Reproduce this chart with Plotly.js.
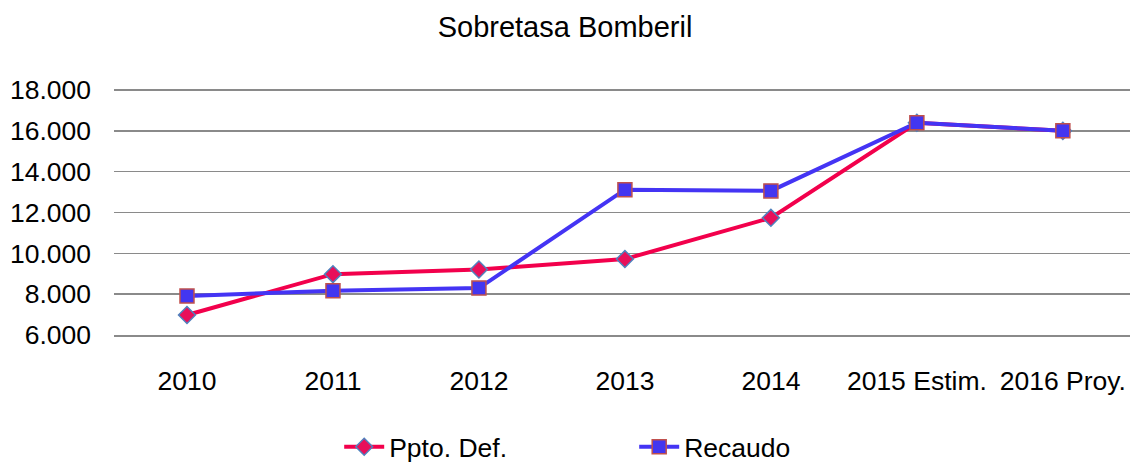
<!DOCTYPE html>
<html>
<head>
<meta charset="utf-8">
<script src="https://cdn.plot.ly/plotly-3.0.1.min.js"></script>
<style>html,body{margin:0;padding:0;background:#fff}#chart{width:1130px;height:465px}</style>
</head>
<body>
<div id="chart"></div>
<script>
const categories = ["2010", "2011", "2012", "2013", "2014", "2015 Estim.", "2016 Proy."];
const pptoDef = [6980, 8980, 9210, 9720, 11740, 16400, 16000];
const recaudo = [7910, 8170, 8300, 13120, 13060, 16400, 16000];
const yTicks = [6000, 8000, 10000, 12000, 14000, 16000, 18000];

const traces = [
  {
    x: categories, y: pptoDef, name: "Ppto. Def.", type: "scatter", mode: "lines+markers",
    line: {color: "#F2004C", width: 4},
    marker: {symbol: "diamond", size: 13, color: "#E8105A", line: {color: "#4F81BD", width: 1.5}}
  },
  {
    x: categories, y: recaudo, name: "Recaudo", type: "scatter", mode: "lines+markers",
    line: {color: "#4434F4", width: 4},
    marker: {symbol: "square", size: 14, color: "#4336F0", line: {color: "#C0504D", width: 1.5}}
  }
];

const font = {family: "Liberation Sans, Arial, sans-serif", color: "#000"};
const fs = 26.5;

const layout = {
  width: 1130, height: 465,
  margin: {l: 114, r: 0, t: 88, b: 130, pad: 0},
  paper_bgcolor: "#fff", plot_bgcolor: "#fff",
  separators: ",.",
  font: Object.assign({size: fs}, font),
  title: {text: "Sobretasa Bomberil", font: Object.assign({size: 29}, font),
          x: 0.5, xref: "container", xanchor: "center", y: 1 - 27/465, yref: "container", yanchor: "middle"},
  xaxis: {
    type: "category", range: [-0.5, 6.46], showgrid: false, zeroline: false,
    showline: true, linecolor: "#8a8a8a", linewidth: 1.5, ticks: "", ticklabelstandoff: 22,
    tickfont: Object.assign({size: fs}, font)
  },
  yaxis: {
    range: [6000, 18100], tickvals: yTicks, tickformat: ",d",
    showgrid: true, gridcolor: "#8a8a8a", gridwidth: 1.5, zeroline: false, showline: false,
    ticks: "", ticklabelstandoff: 22, tickfont: Object.assign({size: fs}, font)
  },
  showlegend: true,
  legend: {
    orientation: "h", x: 0.512, xanchor: "center", y: 1 - 447/465, yref: "container", yanchor: "middle",
    font: Object.assign({size: fs}, font), entrywidth: 240, itemwidth: 40,
    bgcolor: "rgba(0,0,0,0)"
  }
};

Plotly.newPlot("chart", traces, layout, {displayModeBar: false, staticPlot: true});
</script>
</body>
</html>
